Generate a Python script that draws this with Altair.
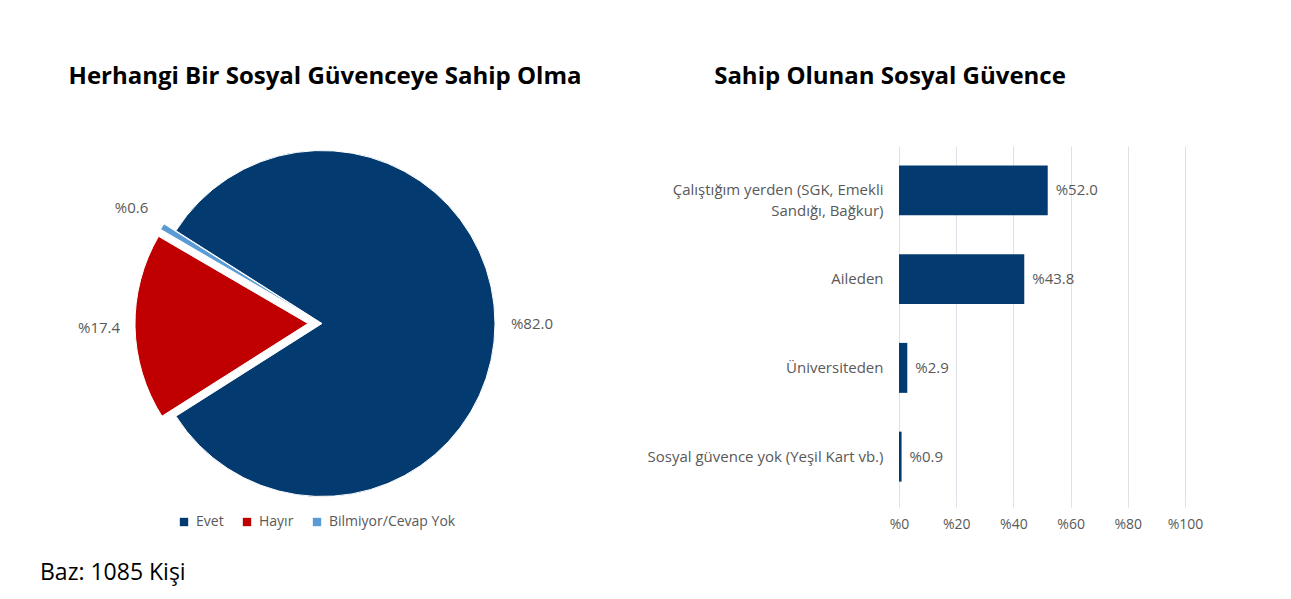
import math
import altair as alt
import pandas as pd

# ---------------- data ----------------
pie_categories = ["Evet", "Hayır", "Bilmiyor/Cevap Yok"]
pie_values = [82.0, 17.4, 0.6]
pie_colors = ["#033b70", "#c00000", "#5b9bd5"]

bar_categories = [
    "Çalıştığım yerden (SGK, Emekli|Sandığı, Bağkur)",
    "Aileden",
    "Üniversiteden",
    "Sosyal güvence yok (Yeşil Kart vb.)",
]
bar_values = [52.0, 43.8, 2.9, 0.9]
x_tick_values = [0, 20, 40, 60, 80, 100]

title_left = "Herhangi Bir Sosyal Güvenceye Sahip Olma"
title_right = "Sahip Olunan Sosyal Güvence"
footnote = "Baz: 1085 Kişi"

# ---------------- tables ----------------
pie_df = pd.DataFrame({"cat": pie_categories, "value": pie_values})
pie_df["end"] = pie_df["value"].cumsum()
pie_df["start"] = pie_df["end"] - pie_df["value"]
pie_df["mid"] = (pie_df["start"] + pie_df["end"]) / 2

bar_df = pd.DataFrame({"label": bar_categories, "value": bar_values})

FONT = "Open Sans"
TEXT_GRAY = "#595959"
NAVY = "#033b70"

start_angle = math.radians(302.4)
theta_scale = alt.Scale(domain=[0, 100], range=[start_angle, start_angle + 2 * math.pi])
color_scale = alt.Scale(domain=pie_categories, range=pie_colors)

pie_base = alt.Chart(pie_df).transform_calculate(
    lbl="'%' + format(datum.value, '.1f')"
)

def arc_layer(cat, dx, dy, legend=None):
    return pie_base.transform_filter(alt.datum.cat == cat).mark_arc(
        outerRadius=173, stroke="white", strokeWidth=1, xOffset=dx, yOffset=dy
    ).encode(
        theta=alt.Theta("start:Q", scale=theta_scale, stack=None),
        theta2="end:Q",
        color=alt.Color("cat:N", scale=color_scale, legend=legend),
    )

legend = alt.Legend(
    title=None, orient="none", legendX=169, legendY=369, direction="horizontal",
    symbolType="square", symbolSize=70, symbolStrokeWidth=0, labelFontSize=14,
    labelColor=TEXT_GRAY, labelFont=FONT, columnPadding=16, labelOffset=5,
)

arc_evet = arc_layer("Evet", 0, 0, legend)
arc_hayir = arc_layer("Hayır", -14, 0)
arc_bilm = arc_layer("Bilmiyor/Cevap Yok", -12, -7)

text_evet = pie_base.transform_filter(alt.datum.cat == "Evet").mark_text(
    radius=210, fontSize=15, font=FONT, color=TEXT_GRAY
).encode(theta=alt.Theta("mid:Q", scale=theta_scale, stack=None), text="lbl:N")

text_small = pie_base.transform_filter(alt.datum.cat != "Evet").mark_text(
    radius=223, fontSize=15, font=FONT, color=TEXT_GRAY
).encode(theta=alt.Theta("mid:Q", scale=theta_scale, stack=None), text="lbl:N")

pie = alt.layer(arc_evet, arc_hayir, arc_bilm, text_evet, text_small).properties(
    width=628,
    height=355,
    title=alt.TitleParams(
        title_left, font=FONT, fontSize=24, fontWeight="bold", color="black",
        anchor="middle", offset=57, dx=3,
    ),
)

# ---------------- bar chart ----------------
bar_base = alt.Chart(bar_df).transform_calculate(
    lbl="'%' + format(datum.value, '.1f')"
)

y_enc = alt.Y(
    "label:N", sort=bar_categories,
    scale=alt.Scale(paddingInner=0.437, paddingOuter=0.2185),
    axis=alt.Axis(
        title=None, labelExpr="split(datum.label, '|')", ticks=False, domain=False,
        labelFontSize=15, labelColor=TEXT_GRAY, labelFont=FONT, labelPadding=16,
        labelLimit=400, labelLineHeight=21,
    ),
)
x_enc = alt.X(
    "value:Q", scale=alt.Scale(domain=[0, 100]),
    axis=alt.Axis(
        title=None, values=x_tick_values, labelExpr="'%' + datum.value", grid=True,
        gridColor="#dde1e8", domain=False, tickColor="#dde1e8", tickSize=6,
        labelPadding=10, labelFontSize=14, labelColor=TEXT_GRAY, labelFont=FONT,
        labelFlush=False, labelOverlap=False,
    ),
)

bars = bar_base.mark_bar(color=NAVY).encode(y=y_enc, x=x_enc)
bar_text = bar_base.mark_text(
    align="left", dx=8, fontSize=15, font=FONT, color=TEXT_GRAY
).encode(y=alt.Y("label:N", sort=bar_categories), x="value:Q", text="lbl:N")

bar_chart = alt.layer(bars, bar_text).properties(
    width=286,
    height=355,
    title=alt.TitleParams(
        title_right, font=FONT, fontSize=24, fontWeight="bold", color="black",
        anchor="middle", offset=57, dx=-152,
    ),
)

chart = alt.hconcat(pie, bar_chart, spacing=263, bounds="flush").properties(
    title=alt.TitleParams(
        footnote, orient="bottom", anchor="start", font=FONT, fontSize=23,
        fontWeight="normal", color="black", dx=32, offset=31,
    ),
    padding={"left": 0, "top": 57, "right": 5, "bottom": 5},
    background="white",
).configure_view(stroke=None)

chart.save("out.html", embed_options={"renderer": "svg", "actions": False})
